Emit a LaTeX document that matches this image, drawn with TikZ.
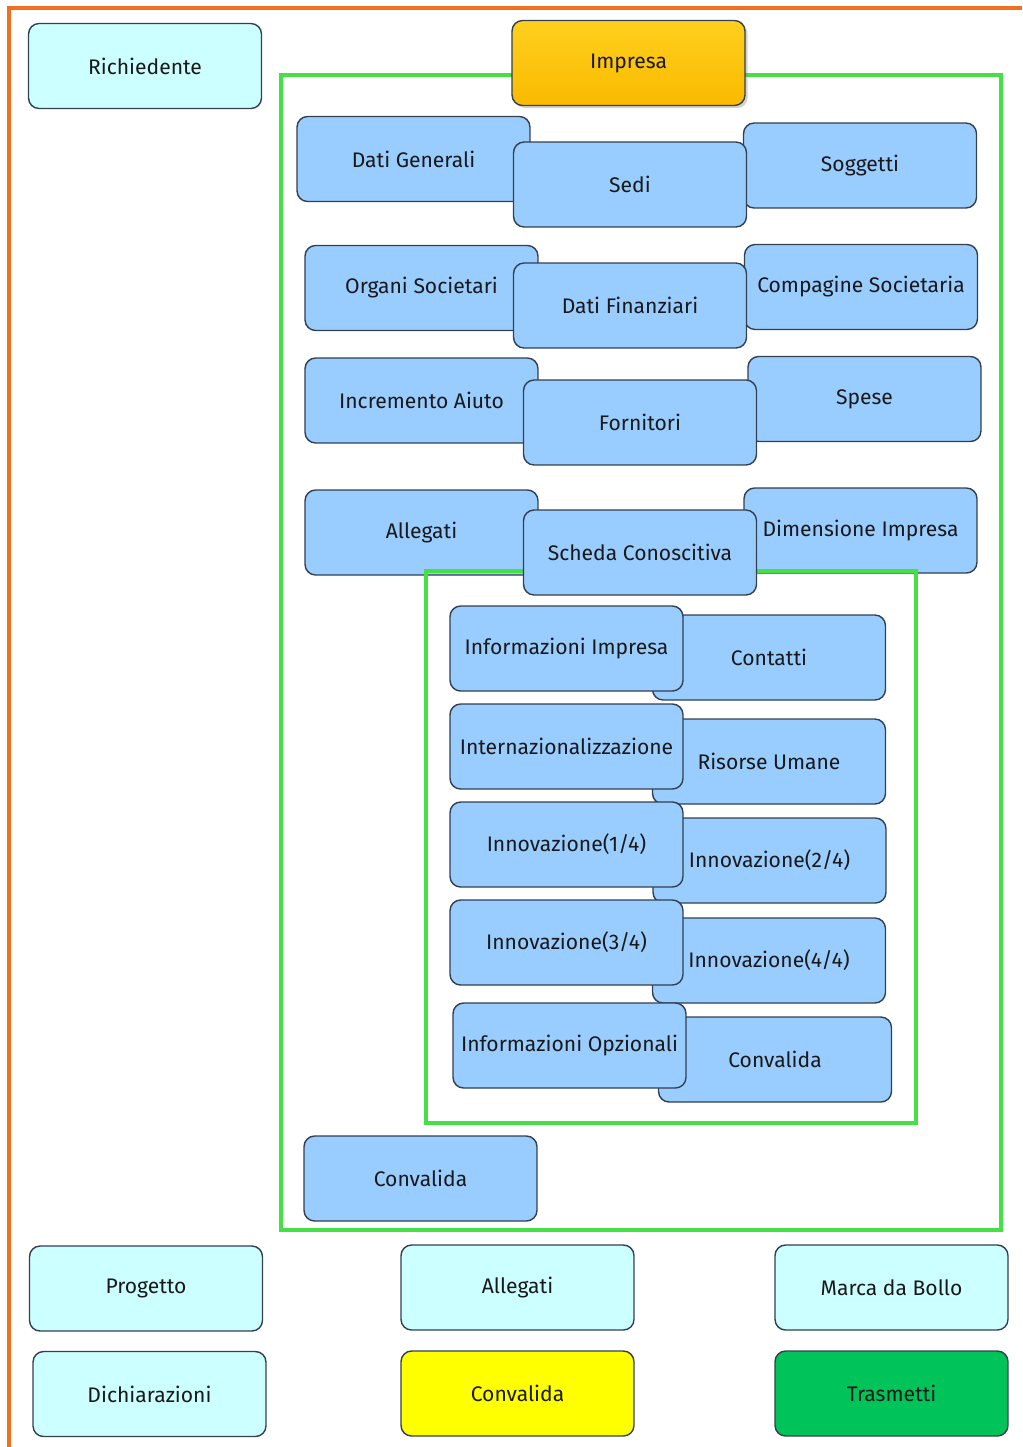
\documentclass[tikz,border=0pt]{standalone}
\usepackage{fontspec}
\setmainfont{Fira Sans}
\usetikzlibrary{shadows}

\definecolor{frameorange}{RGB}{240,112,32}
\definecolor{framegreen}{RGB}{70,224,70}
\definecolor{boxline}{RGB}{50,64,80}
\definecolor{boxblue}{RGB}{153,204,255}
\definecolor{boxcyan}{RGB}{204,255,255}
\definecolor{boxyellow}{RGB}{255,255,0}
\definecolor{boxgreen}{RGB}{0,196,90}

\tikzset{
  box/.style={draw=boxline, line width=0.8pt, rounded corners=6pt,
    minimum width=4.66cm, minimum height=1.7cm, inner sep=0pt,
    font=\fontsize{12}{14}\selectfont, text=black!90},
  bluebox/.style={box, fill=boxblue},
  cyanbox/.style={box, fill=boxcyan},
  greenframe/.style={draw=framegreen, line width=2pt}
}

\begin{document}
\begin{tikzpicture}[x=0.02cm, y=-0.02cm]
  \useasboundingbox[fill=white] (0,0) rectangle (1022,1447);

  % Orange frame
  \draw[frameorange, line width=2.3pt] (9,1447) -- (9,8) -- (1022,8);

  % Outer green frame
  \draw[greenframe] (281,75) rectangle (1001,1230);

  % Header
  \node[cyanbox] (richiedente) at (145,66) {Richiedente};
  \node[box, drop shadow={shadow xshift=1.5pt, shadow yshift=-1.5pt, opacity=0.35},
    top color={rgb,255:red,255;green,208;blue,30},
    bottom color={rgb,255:red,250;green,186;blue,0}] (impresa) at (628.5,63) {Impresa};

  % Impresa sections
  \node[bluebox] (datigen) at (413.5,159) {Dati Generali};
  \node[bluebox] (soggetti) at (860,165.5) {Soggetti};
  \node[bluebox] (sedi) at (630,184.5) {Sedi};

  \node[bluebox] (organi) at (421.5,288) {Organi Societari};
  \node[bluebox] (compagine) at (861,287) {Compagine Societaria};
  \node[bluebox] (datifin) at (630,305.5) {Dati Finanziari};

  \node[bluebox] (incremento) at (421.5,400.5) {Incremento Aiuto};
  \node[bluebox] (spese) at (864.5,399) {Spese};
  \node[bluebox] (fornitori) at (640,422.5) {Fornitori};

  \node[bluebox] (allegati) at (421.5,532.5) {Allegati};
  \node[bluebox] (dimensione) at (860.5,530.5) {Dimensione Impresa};

  % Inner green frame
  \draw[greenframe] (426,571) rectangle (916,1123);

  \node[bluebox] (scheda) at (640,552.5) {Scheda Conoscitiva};

  % Scheda Conoscitiva sections
  \node[bluebox] (contatti) at (769,657.5) {Contatti};
  \node[bluebox] (infoimp) at (566.5,648.5) {Informazioni Impresa};
  \node[bluebox] (risorse) at (769,761.5) {Risorse Umane};
  \node[bluebox] (internaz) at (566.5,746.5) {Internazionalizzazione};
  \node[bluebox] (innovB) at (769.5,860.5) {Innovazione(2/4)};
  \node[bluebox] (innovA) at (566.5,844.5) {Innovazione(1/4)};
  \node[bluebox] (innovD) at (769,960.5) {Innovazione(4/4)};
  \node[bluebox] (innovC) at (566.5,942.5) {Innovazione(3/4)};
  \node[bluebox] (convscheda) at (775,1059.5) {Convalida};
  \node[bluebox] (infoopz) at (569.5,1045.5) {Informazioni Opzionali};

  \node[bluebox] (convimpresa) at (420.5,1178.5) {Convalida};

  % Bottom sections
  \node[cyanbox] (progetto) at (146,1288.5) {Progetto};
  \node[cyanbox] (allegatidom) at (517.5,1287.5) {Allegati};
  \node[cyanbox] (marca) at (891.5,1287.5) {Marca da Bollo};
  \node[cyanbox] (dichiarazioni) at (149.5,1394) {Dichiarazioni};
  \node[box, fill=boxyellow] (convalida) at (517.5,1393.5) {Convalida};
  \node[box, fill=boxgreen] (trasmetti) at (891.5,1393.5) {Trasmetti};
\end{tikzpicture}
\end{document}
